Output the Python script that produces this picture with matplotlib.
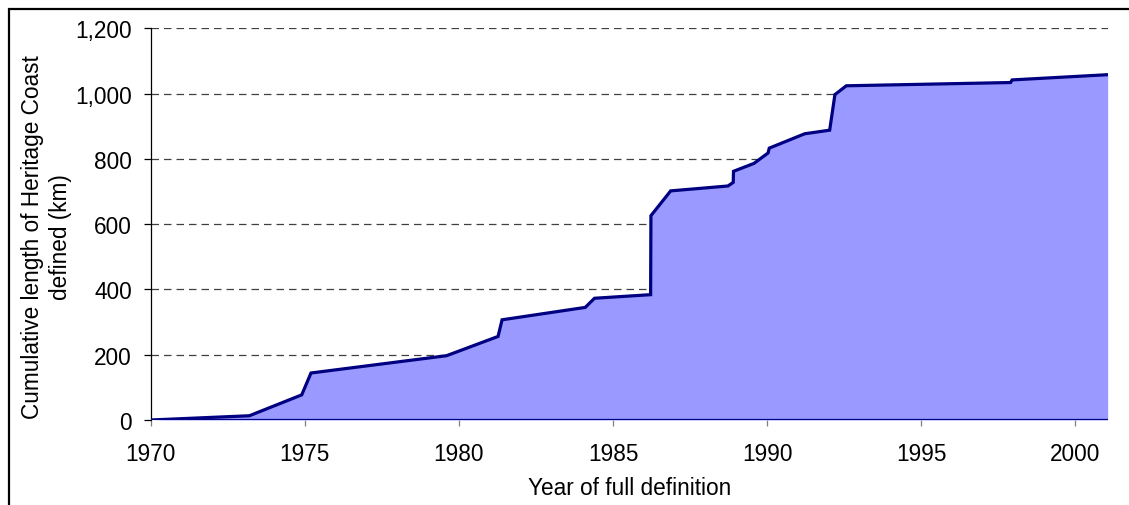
import matplotlib.pyplot as plt
from matplotlib.patches import Rectangle
from matplotlib.ticker import FuncFormatter

# cumulative length of Heritage Coast defined
years = [1970.0, 1973.2, 1974.9, 1975.2, 1979.6, 1981.27, 1981.4, 1984.1, 1984.4,
         1986.22, 1986.23, 1986.87, 1988.73, 1988.9, 1988.91, 1989.57, 1990.03,
         1990.07, 1991.22, 1992.03, 1992.2, 1992.57, 1997.9, 1997.95, 2001.05]
length_km = [0, 13, 77, 144, 197, 256, 307, 345, 373,
             384, 626, 702, 717, 728, 762, 786, 818,
             833, 877, 888, 997, 1024, 1034, 1042, 1058]

plt.rcParams['font.family'] = ['Liberation Sans', 'DejaVu Sans']
fs = 16.3

fig = plt.figure(figsize=(11.29, 5.06), dpi=100)
ax = fig.add_axes([0.1335, 0.168, 0.9811 - 0.1335, 0.942 - 0.168])

ax.fill_between(years, length_km, 0, color="#9999FF", linewidth=0, zorder=2)
ax.plot(years, length_km, color="#000080", linewidth=2.3, solid_joinstyle="miter", zorder=3)
ax.axhline(0, color="#000080", linewidth=1.6, zorder=3)

ax.set_xlim(1970, 2001.05)
ax.set_ylim(0, 1200)
ax.set_xticks(range(1970, 2001, 5))
ax.set_yticks(range(0, 1201, 200))
ax.yaxis.set_major_formatter(FuncFormatter(lambda v, p: f"{int(v):,}"))

for y in range(200, 1201, 200):
    ax.axhline(y, color="#404040", linewidth=0.9, linestyle=(0, (6, 4)), zorder=1)

for s in ["top", "right", "bottom"]:
    ax.spines[s].set_visible(False)
ax.spines["left"].set_linewidth(0.9)
ax.tick_params(axis="y", direction="out", length=5, width=0.9, labelsize=fs, pad=8.5)
ax.tick_params(axis="x", direction="out", length=4.3, width=0.9, color="#808080", labelsize=fs, pad=11.5)

ax.set_xlabel("Year of full definition", fontsize=fs, labelpad=8)
ax.set_ylabel("Cumulative length of Heritage Coast\ndefined (km)", fontsize=fs, linespacing=1.3)
ax.yaxis.set_label_coords(-0.0822, 0.47)

# outer frame, cut off on the right and bottom
fig.patches.append(Rectangle((8.5 / 1129, -0.1), 1.2, 1.1 - 10 / 506, transform=fig.transFigure,
                             fill=False, edgecolor="black", linewidth=1.6))

plt.savefig("out.png", dpi=100)
